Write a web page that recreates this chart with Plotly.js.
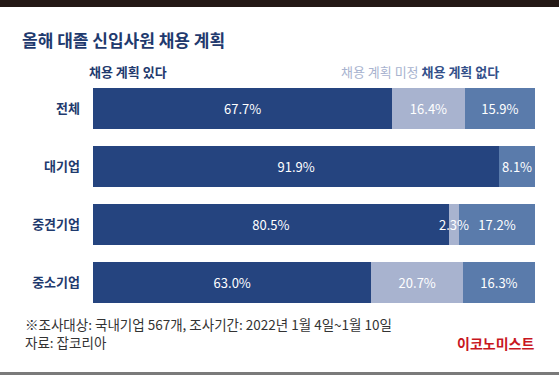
<!DOCTYPE html>
<html>
<head>
<meta charset="utf-8">
<script src="https://cdn.plot.ly/plotly-3.0.1.min.js"></script>
<style>
html,body{margin:0;padding:0;background:#fff;}
#chart{width:559px;height:375px;}
</style>
</head>
<body>
<div id="chart"></div>
<script>
// Data
const categories = ['전체', '대기업', '중견기업', '중소기업'];
const seriesNames = ['채용 계획 있다', '채용 계획 미정', '채용 계획 없다'];
const planYes = [67.7, 91.9, 80.5, 63.0];
const planUndecided = [16.4, 0, 2.3, 20.7];
const planNo = [15.9, 8.1, 17.2, 16.3];
const titleText = '올해 대졸 신입사원 채용 계획';
const noteText = '※조사대상: 국내기업 567개, 조사기간: 2022년 1월 4일~1월 10일';
const sourceText = '자료: 잡코리아';
const brandText = '이코노미스트';

const W = 559, H = 375;
const M = {l: 93, r: 24, t: 80, b: 64};
const colors = ['#25447f', '#a8b3cf', '#5a7bab'];
const font = '"Noto Sans CJK KR", "Noto Sans", sans-serif';
const NARROW = 5; // segments narrower than this get their label as an overlay annotation

function fmt(v){ return v.toFixed(1) + '%'; }

const seriesVals = [planYes, planUndecided, planNo];
const traces = seriesVals.map((vals, i) => ({
  type: 'bar',
  orientation: 'h',
  name: seriesNames[i],
  y: categories,
  x: vals,
  marker: {color: colors[i], line: {width: 0}},
  text: vals.map(v => (v >= NARROW) ? fmt(v) : ''),
  textposition: 'inside',
  insidetextanchor: 'middle',
  constraintext: 'none',
  textangle: 0,
  textfont: {family: font, size: 13, color: '#ffffff'},
  hoverinfo: 'skip'
}));

// overlay labels for narrow segments (drawn above all bars)
const narrowAnns = [];
categories.forEach((c, ci) => {
  let base = 0;
  seriesVals.forEach(vals => {
    const v = vals[ci];
    if (v > 0 && v < NARROW) {
      narrowAnns.push({x: base + v / 2, y: c, xref: 'x', yref: 'y', showarrow: false,
        text: fmt(v), font: {family: font, size: 13, color: '#ffffff'}, xanchor: 'center', yanchor: 'middle'});
    }
    base += v;
  });
});

// convert pixel coords to paper coordinates
const plotH = H - M.t - M.b;
const py = p => (H - M.b - p) / plotH;
const pxx = p => (p - M.l) / (W - M.l - M.r);

const layout = {
  width: W, height: H,
  margin: M,
  paper_bgcolor: '#ffffff',
  plot_bgcolor: '#ffffff',
  barmode: 'stack',
  bargap: 0.29,
  showlegend: false,
  title: {
    text: '<b>' + titleText + '</b>',
    font: {family: font, size: 17, color: '#1f3a6e'},
    x: 22 / W, xanchor: 'left', xref: 'container',
    y: 1 - 41 / H, yanchor: 'middle', yref: 'container'
  },
  xaxis: {range: [0, 100], showgrid: false, zeroline: false, showticklabels: false, ticks: '', fixedrange: true},
  yaxis: {
    autorange: 'reversed', showgrid: false, zeroline: false, ticks: '',
    ticklabelstandoff: 12,
    tickfont: {family: font, size: 13, color: '#1f3a6e', weight: 'bold'}
  },
  shapes: [
    {type: 'rect', xref: 'paper', yref: 'paper', x0: pxx(0), x1: pxx(W), y0: py(7), y1: py(0), fillcolor: '#231815', line: {width: 0}, layer: 'above'},
    {type: 'rect', xref: 'paper', yref: 'paper', x0: pxx(0), x1: pxx(W), y0: py(375), y1: py(372), fillcolor: '#7a7a7a', line: {width: 0}, layer: 'above'}
  ],
  annotations: narrowAnns.concat([
    {xref: 'paper', yref: 'paper', x: pxx(87), y: py(71), xanchor: 'left', yanchor: 'middle', showarrow: false,
     text: '<b>' + seriesNames[0] + '</b>', font: {family: font, size: 13, color: '#1f3a6e'}},
    {xref: 'paper', yref: 'paper', x: pxx(501), y: py(71), xanchor: 'right', yanchor: 'middle', showarrow: false,
     text: '<span style="color:#a8b3cf">' + seriesNames[1] + '</span> <b><span style="color:#34508a">' + seriesNames[2] + '</span></b>',
     font: {family: font, size: 13, color: '#a8b3cf'}},
    {xref: 'paper', yref: 'paper', x: pxx(23), y: py(324), xanchor: 'left', yanchor: 'middle', showarrow: false,
     text: noteText, font: {family: font, size: 13.5, color: '#333333'}},
    {xref: 'paper', yref: 'paper', x: pxx(23), y: py(342), xanchor: 'left', yanchor: 'middle', showarrow: false,
     text: sourceText, font: {family: font, size: 13.5, color: '#333333'}},
    {xref: 'paper', yref: 'paper', x: pxx(536), y: py(343), xanchor: 'right', yanchor: 'middle', showarrow: false,
     text: '<b>' + brandText + '</b>', font: {family: font, size: 14, color: '#c8161e'}}
  ])
};

Plotly.newPlot('chart', traces, layout, {staticPlot: true, displayModeBar: false});
</script>
</body>
</html>
